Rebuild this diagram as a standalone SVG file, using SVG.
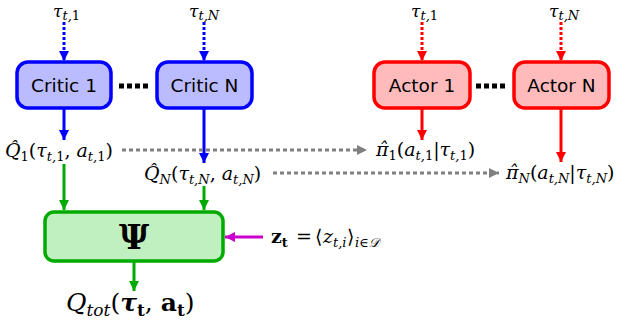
<svg xmlns="http://www.w3.org/2000/svg" width="639" height="325" viewBox="0 0 639 325">
<style>
.box{stroke-width:3.5}
.critic{fill:#bbbbff;stroke:#0000ff}
.actor{fill:#ffbbbb;stroke:#ff0000}
.mix{fill:#c0f0c0;stroke:#00aa00}
.lbl{font-family:"DejaVu Sans",sans-serif;font-size:18.5px;fill:#000;text-anchor:middle}
.m{font-family:"DejaVu Serif",serif;font-style:italic;font-size:19px;fill:#000}
.t{font-size:17px}
.s{font-size:13px}
.big{font-size:25px}
.bs{font-size:17px}
.up{font-style:normal}
.bd{font-weight:bold}
.b{stroke-width:3;fill:none}
.blue{stroke:#0000ff}
.red{stroke:#ff0000}
.green{stroke:#00aa00}
.mag{stroke:#cc00cc}
.gray{stroke:#808080;stroke-dasharray:4,3}
.dot{stroke-dasharray:3,2}
</style>
<defs>
<marker id="ab" viewBox="0 0 10 10" refX="10" refY="5" markerWidth="10" markerHeight="10" markerUnits="userSpaceOnUse" orient="auto"><path d="M0,0L10,5L0,10z" fill="#0000ff"/></marker>
<marker id="ar" viewBox="0 0 10 10" refX="10" refY="5" markerWidth="10" markerHeight="10" markerUnits="userSpaceOnUse" orient="auto"><path d="M0,0L10,5L0,10z" fill="#ff0000"/></marker>
<marker id="ag" viewBox="0 0 10 10" refX="10" refY="5" markerWidth="10" markerHeight="10" markerUnits="userSpaceOnUse" orient="auto"><path d="M0,0L10,5L0,10z" fill="#00aa00"/></marker>
<marker id="am" viewBox="0 0 10 10" refX="10" refY="5" markerWidth="10" markerHeight="10" markerUnits="userSpaceOnUse" orient="auto"><path d="M0,0L10,5L0,10z" fill="#cc00cc"/></marker>
<marker id="agr" viewBox="0 0 10 10" refX="10" refY="5" markerWidth="12" markerHeight="10" markerUnits="userSpaceOnUse" orient="auto"><path d="M0,0L10,5L0,10z" fill="#808080"/></marker>
</defs>

<g id="connectors">
<line class="b blue dot" x1="64" y1="22" x2="64" y2="61" marker-end="url(#ab)"/>
<line class="b blue dot" x1="204" y1="22" x2="204" y2="61" marker-end="url(#ab)"/>
<line class="b red dot" x1="422" y1="22" x2="422" y2="61" marker-end="url(#ar)"/>
<line class="b red dot" x1="561" y1="22" x2="561" y2="61" marker-end="url(#ar)"/>
<line class="b blue" x1="64" y1="108" x2="64" y2="140" marker-end="url(#ab)"/>
<line class="b blue" x1="204" y1="108" x2="204" y2="163" marker-end="url(#ab)"/>
<line class="b red" x1="422" y1="108" x2="422" y2="140" marker-end="url(#ar)"/>
<line class="b red" x1="561" y1="108" x2="561" y2="162" marker-end="url(#ar)"/>
<line class="b gray" x1="122" y1="150" x2="367" y2="150" marker-end="url(#agr)"/>
<line class="b gray" x1="273" y1="173" x2="499" y2="173" marker-end="url(#agr)"/>
<line class="b green" x1="64" y1="164" x2="64" y2="210" marker-end="url(#ag)"/>
<line class="b green" x1="204" y1="186" x2="204" y2="210" marker-end="url(#ag)"/>
<line class="b green" x1="134" y1="262" x2="134" y2="291" marker-end="url(#ag)"/>
<line class="b mag" x1="263" y1="237" x2="225" y2="237" marker-end="url(#am)"/>
<line x1="119" y1="86" x2="149" y2="86" stroke="#000" stroke-width="5" stroke-dasharray="5,3"/>
<line x1="476" y1="86" x2="506" y2="86" stroke="#000" stroke-width="5" stroke-dasharray="5,3"/>
</g>

<g id="critic1">
<rect class="box critic" x="17" y="62" width="94" height="46" rx="11"/>
<text class="lbl" x="64" y="92">Critic 1</text>
</g>
<g id="criticN">
<rect class="box critic" x="157" y="62" width="95" height="46" rx="11"/>
<text class="lbl" x="204.5" y="92">Critic N</text>
</g>
<g id="actor1">
<rect class="box actor" x="374" y="62" width="96" height="46" rx="11"/>
<text class="lbl" x="422" y="92">Actor 1</text>
</g>
<g id="actorN">
<rect class="box actor" x="514" y="62" width="95" height="46" rx="11"/>
<text class="lbl" x="561.5" y="92">Actor N</text>
</g>
<g id="mixer">
<rect class="box mix" x="45" y="212" width="178" height="49" rx="9"/>
<text x="134" y="249" font-family="DejaVu Serif,serif" font-weight="bold" font-size="33" text-anchor="middle">Ψ</text>
</g>

<g id="labels">
<text class="m t" x="53" y="17">τ<tspan class="s" dy="3">t,</tspan><tspan class="s up">1</tspan></text>
<text class="m t" x="189" y="17">τ<tspan class="s" dy="3">t,N</tspan></text>
<text class="m t" x="411" y="17">τ<tspan class="s" dy="3">t,</tspan><tspan class="s up">1</tspan></text>
<text class="m t" x="549" y="17">τ<tspan class="s" dy="3">t,N</tspan></text>

<text class="m" x="5" y="157">Q̂<tspan class="s up" dy="4">1</tspan><tspan class="up" dy="-4">(</tspan>τ<tspan class="s" dy="4">t,</tspan><tspan class="s up">1</tspan><tspan class="up" dy="-4">, </tspan>a<tspan class="s" dy="4">t,</tspan><tspan class="s up">1</tspan><tspan class="up" dy="-4">)</tspan></text>
<text class="m" x="144" y="180">Q̂<tspan class="s" dy="4">N</tspan><tspan class="up" dy="-4">(</tspan>τ<tspan class="s" dy="4">t,N</tspan><tspan class="up" dy="-4">, </tspan>a<tspan class="s" dy="4">t,N</tspan><tspan class="up" dy="-4">)</tspan></text>
<text class="m" x="376" y="156">π̂<tspan class="s up" dy="4">1</tspan><tspan class="up" dy="-4">(</tspan>a<tspan class="s" dy="4">t,</tspan><tspan class="s up">1</tspan><tspan class="up" dy="-4">|</tspan>τ<tspan class="s" dy="4">t,</tspan><tspan class="s up">1</tspan><tspan class="up" dy="-4">)</tspan></text>
<text class="m" x="506" y="179">π̂<tspan class="s" dy="4">N</tspan><tspan class="up" dy="-4">(</tspan>a<tspan class="s" dy="4">t,N</tspan><tspan class="up" dy="-4">|</tspan>τ<tspan class="s" dy="4">t,N</tspan><tspan class="up" dy="-4">)</tspan></text>

<text class="m" x="271" y="243"><tspan class="up bd">z</tspan><tspan class="s up bd" dy="4">t</tspan><tspan class="up" x="296" dy="-4">=</tspan><tspan class="up" x="315">⟨</tspan><tspan x="323">z</tspan><tspan class="s" dy="4">t,i</tspan><tspan class="up" x="347" dy="-4">⟩</tspan><tspan class="s" x="355" dy="4" font-size="15px">i∈𝒟</tspan></text>

<text class="m big" x="66" y="311">Q<tspan class="bs" dy="5">tot</tspan><tspan class="up" dy="-5">(</tspan><tspan class="bd">τ</tspan><tspan class="bs up bd" dy="5">t</tspan><tspan class="up" dy="-5">, </tspan><tspan class="up bd">a</tspan><tspan class="bs up bd" dy="5">t</tspan><tspan class="up" dy="-5">)</tspan></text>
</g>
</svg>
